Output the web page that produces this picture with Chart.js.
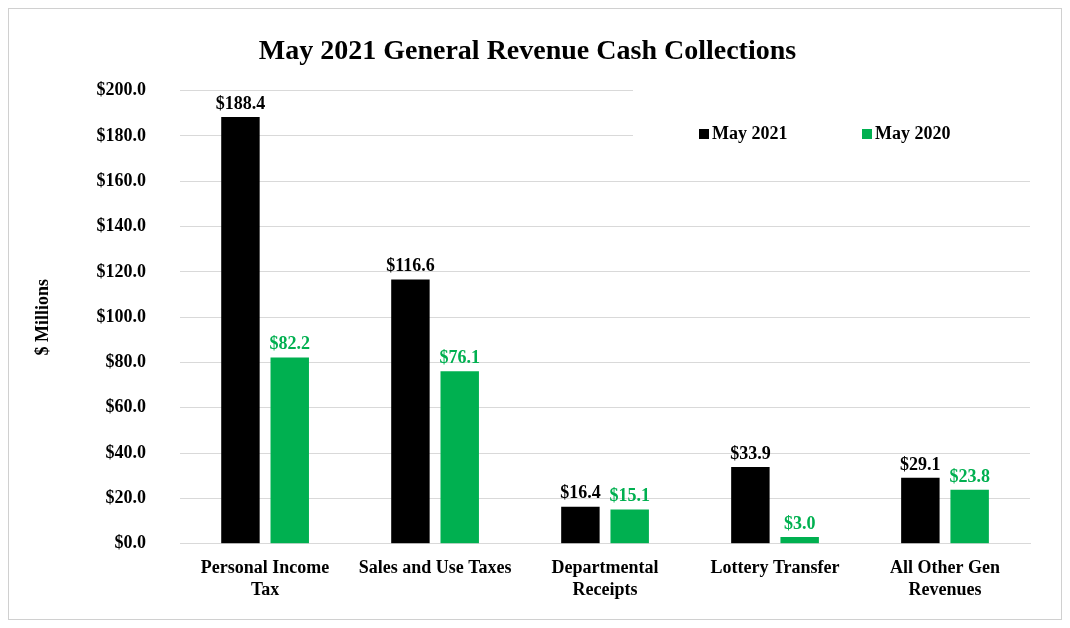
<!DOCTYPE html>
<html><head><meta charset="utf-8">
<script src="https://cdn.jsdelivr.net/npm/chart.js@4"></script>
<style>
body{margin:0;background:#fff}
#wrap{position:absolute;left:8px;top:8px;width:1052px;height:610px;border:1px solid #d0d0d0}
</style></head><body>
<div id="wrap"><canvas id="c" width="1052" height="610"></canvas></div>
<script>
var categories = [['Personal Income','Tax'], 'Sales and Use Taxes', ['Departmental','Receipts'], 'Lottery Transfer', ['All Other Gen','Revenues']];
var may2021 = [188.4, 116.6, 16.4, 33.9, 29.1];
var may2020 = [82.2, 76.1, 15.1, 3.0, 23.8];
var green = '#00b050';
var font = 'Liberation Serif';

var labelPlugin = {
  id: 'labels',
  beforeDatasetsDraw: function (chart) {
    var ctx = chart.ctx, a = chart.chartArea;
    ctx.save();
    ctx.fillStyle = '#fff';
    ctx.fillRect(624, a.top - 2, a.right - 624 + 2, 70);
    ctx.font = 'bold 18px ' + font;
    ctx.textBaseline = 'middle';
    ctx.fillStyle = '#000'; ctx.fillRect(690, 120, 10, 10);
    ctx.fillText('May 2021', 703, 125);
    ctx.fillStyle = green; ctx.fillRect(853, 120, 10, 10);
    ctx.fillStyle = '#000';
    ctx.fillText('May 2020', 866, 125);
    ctx.restore();
  },
  afterDatasetsDraw: function (chart) {
    var ctx = chart.ctx;
    ctx.save();
    ctx.font = 'bold 18px ' + font;
    ctx.textAlign = 'center';
    ctx.textBaseline = 'bottom';
    chart.data.datasets.forEach(function (ds, i) {
      ctx.fillStyle = i === 0 ? '#000' : green;
      chart.getDatasetMeta(i).data.forEach(function (bar, j) {
        ctx.fillText('$' + ds.data[j].toFixed(1), bar.x, bar.y - 4);
      });
    });
    ctx.restore();
  }
};

new Chart(document.getElementById('c'), {
  type: 'bar',
  data: {
    labels: categories,
    datasets: [
      { label: 'May 2021', data: may2021, backgroundColor: '#000' },
      { label: 'May 2020', data: may2020, backgroundColor: green }
    ]
  },
  options: {
    responsive: false,
    animation: false,
    layout: { padding: { left: 16, right: 31, top: 0, bottom: 12 } },
    datasets: { bar: { categoryPercentage: 0.58, barPercentage: 0.78 } },
    plugins: {
      legend: { display: false },
      tooltip: { enabled: false },
      title: { display: true, text: 'May 2021 General Revenue Cash Collections', color: '#000',
        font: { family: font, size: 28, weight: 'bold' }, padding: { top: 26, bottom: 22 } }
    },
    scales: {
      x: {
        grid: { display: false },
        border: { color: '#d9d9d9' },
        ticks: { color: '#000', font: { family: font, size: 18, weight: 'bold' }, padding: 6 }
      },
      y: {
        min: 0, max: 200,
        ticks: { stepSize: 20, color: '#000', font: { family: font, size: 18, weight: 'bold' }, padding: 34,
          callback: function (v) { return '$' + v.toFixed(1); } },
        grid: { color: '#d9d9d9', tickLength: 0 },
        border: { display: false },
        title: { display: true, text: '$ Millions', color: '#000', font: { family: font, size: 18, weight: 'bold' }, padding: 8 }
      }
    }
  },
  plugins: [labelPlugin]
});
</script>
</body></html>
